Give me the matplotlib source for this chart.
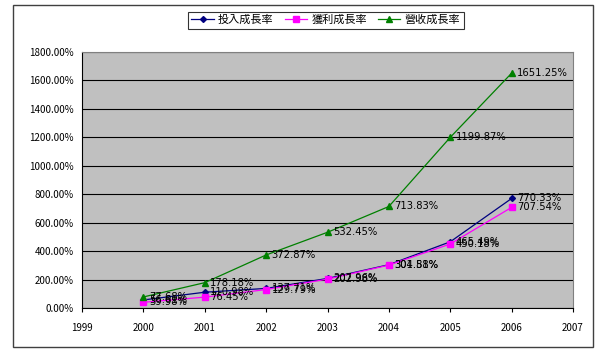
import matplotlib.pyplot as plt
from matplotlib.patches import Rectangle
from matplotlib.ticker import FuncFormatter

plt.rcParams['font.family'] = ['Noto Sans CJK TC', 'DejaVu Sans']

years = [2000, 2001, 2002, 2003, 2004, 2005, 2006]
invest = [56.61, 110.98, 137.71, 207.96, 304.51, 465.49, 770.33]
profit = [39.98, 76.45, 129.79, 202.98, 301.88, 450.18, 707.54]
revenue = [77.68, 178.18, 372.87, 532.45, 713.83, 1199.87, 1651.25]
names = ['投入成長率', '獲利成長率', '營收成長率']

fig = plt.figure(figsize=(6, 3.52), dpi=100)
fig.patch.set_facecolor('white')

# outer chart frame
fig.add_artist(Rectangle((13 / 600, 1 - 347 / 352), 580 / 600, 342 / 352,
                         transform=fig.transFigure, fill=False,
                         edgecolor='#404040', linewidth=1))

ax = fig.add_axes([82 / 600, 1 - 308 / 352, 491 / 600, 256 / 352])
ax.set_facecolor('#c0c0c0')

series = [
    (invest, '#000080', 'D', 3),
    (profit, '#ff00ff', 's', 4),
    (revenue, '#008000', '^', 4),
]
for (vals, col, mk, ms), name in zip(series, names):
    ax.plot(years, vals, color=col, marker=mk, markersize=ms, linewidth=0.9,
            label=name, zorder=3)
    for x, v in zip(years, vals):
        ax.annotate(f'{v:.2f}%', (x, v), xytext=(4, 0), textcoords='offset points',
                    va='center', ha='left', fontsize=7.2, color='black',
                    family='DejaVu Sans', zorder=4)

ax.set_xlim(1999, 2007)
ax.set_ylim(0, 1800)
ax.set_xticks(range(1999, 2008))
ax.set_yticks(range(0, 1801, 200))
ax.yaxis.set_major_formatter(FuncFormatter(lambda v, p: f'{v:.2f}%'))
ax.grid(axis='y', color='black', linewidth=0.8)
ax.set_axisbelow(True)
ax.tick_params(axis='both', labelsize=7, length=3, width=0.8, color='black')
ax.tick_params(axis='x', pad=8)
ax.tick_params(axis='y', length=0, pad=6)
for s in ['top', 'right']:
    ax.spines[s].set_color('#808080')
for s in ['left', 'bottom']:
    ax.spines[s].set_color('black')

leg = fig.legend(loc='upper center', bbox_to_anchor=(326 / 600, 1 - 6 / 352),
                 ncol=3, fontsize=8, frameon=True, fancybox=False,
                 edgecolor='black', handlelength=2, columnspacing=1,
                 handletextpad=0.4, borderpad=0.3)
leg.get_frame().set_linewidth(0.8)

fig.savefig('out.png', dpi=100)
